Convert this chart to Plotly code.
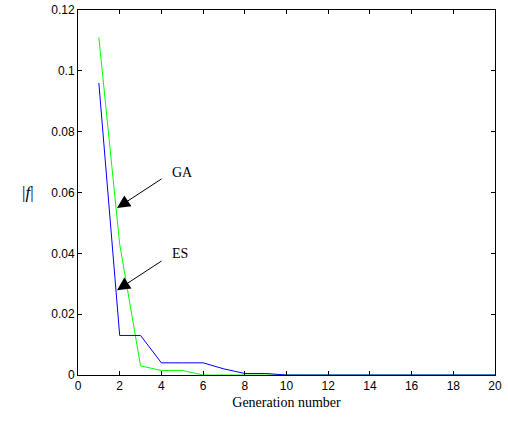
import plotly.graph_objects as go

generations = list(range(1, 21))
ga_values = [0.111, 0.043, 0.003, 0.0015, 0.0015, 0.0, 0.0, 0.0, 0.0, 0.0,
             0.0, 0.0, 0.0, 0.0, 0.0, 0.0, 0.0, 0.0, 0.0, 0.0]
es_values = [0.096, 0.013, 0.013, 0.004, 0.004, 0.004, 0.002, 0.0005, 0.0005, 0.0,
             0.0, 0.0, 0.0, 0.0, 0.0, 0.0, 0.0, 0.0, 0.0, 0.0]
x_ticks = [0, 2, 4, 6, 8, 10, 12, 14, 16, 18, 20]
y_ticks = [0, 0.02, 0.04, 0.06, 0.08, 0.1, 0.12]
y_tick_text = ["0", "0.02", "0.04", "0.06", "0.08", "0.1", "0.12"]

fig = go.Figure()
fig.add_trace(go.Scatter(x=generations, y=ga_values, mode="lines",
                         line=dict(color="#00ff00", width=1), name="GA"))
fig.add_trace(go.Scatter(x=generations, y=es_values, mode="lines",
                         line=dict(color="#0000ff", width=1), name="ES"))

tick_font = dict(family="Liberation Sans, Arial", size=12, color="black")
axis_common = dict(showline=True, linecolor="black", linewidth=1, mirror="ticks",
                   ticks="inside", ticklen=4, tickcolor="black", showgrid=False,
                   zeroline=False, tickfont=tick_font, automargin=False)
serif = dict(family="Liberation Serif, Times New Roman", size=14, color="black")

fig.update_layout(
    width=508, height=421,
    margin=dict(l=78, r=13, t=10, b=46),
    paper_bgcolor="white", plot_bgcolor="white",
    showlegend=False,
    xaxis=dict(range=[0, 20], tickvals=x_ticks, **axis_common,
               title=dict(text="Generation number", font=serif, standoff=4)),
    yaxis=dict(range=[0, 0.12], tickvals=y_ticks, ticktext=y_tick_text, **axis_common),
)

label_font = dict(family="Liberation Serif, Times New Roman", size=14, color="black")
fig.add_annotation(x=1.87, y=0.0549, ax=4.08, ay=0.0648, axref="x", ayref="y",
                   xref="x", yref="y", text="", showarrow=True,
                   arrowhead=2, arrowsize=2.6, arrowwidth=1, arrowcolor="black")
fig.add_annotation(x=4.99, y=0.0667, xref="x", yref="y", text="GA", showarrow=False,
                   font=label_font)
fig.add_annotation(x=1.87, y=0.0279, ax=4.08, ay=0.0378, axref="x", ayref="y",
                   xref="x", yref="y", text="", showarrow=True,
                   arrowhead=2, arrowsize=2.6, arrowwidth=1, arrowcolor="black")
fig.add_annotation(x=4.89, y=0.0398, xref="x", yref="y", text="ES", showarrow=False,
                   font=label_font)
fig.add_annotation(x=-0.14, y=0.5, xref="paper", yref="paper", text="|<i>f</i>|",
                   showarrow=False,
                   font=dict(family="Liberation Serif, Times New Roman", size=17, color="black"))

fig.write_html("out.html", config={"displayModeBar": False},
               post_script="document.body.style.margin='0';document.body.style.overflow='hidden';")
